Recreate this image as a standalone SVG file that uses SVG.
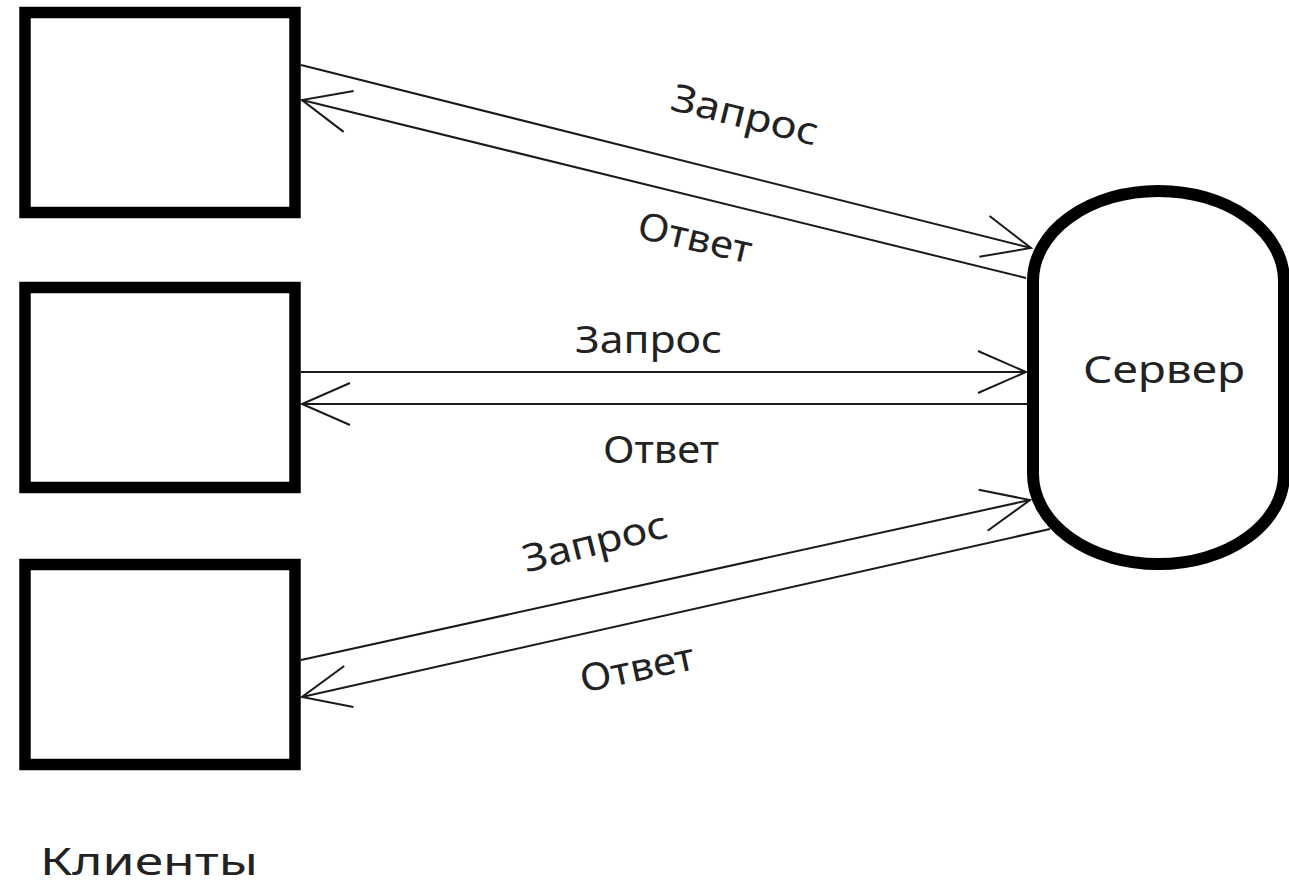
<svg xmlns="http://www.w3.org/2000/svg" width="1289" height="887" viewBox="0 0 1289 887">
<style>
.box{fill:#fff;stroke:#000;stroke-width:11.5}
.srv{fill:#fff;stroke:#000;stroke-width:12}
.conn{fill:none;stroke:#1a1a1a;stroke-width:2;marker-end:url(#arr)}
.lbl{font-family:"Noto Sans","Open Sans","DejaVu Sans",sans-serif;fill:#222;font-size:38px}
</style>
<defs>
<marker id="arr" markerUnits="userSpaceOnUse" viewBox="-55 -25 60 50" refX="0" refY="0" markerWidth="60" markerHeight="50" orient="auto" overflow="visible">
<path d="M-48,-21 L0,0 L-48,21" fill="none" stroke="#1a1a1a" stroke-width="2"/>
</marker>
</defs>
<rect width="1289" height="887" fill="#fff"/>
<g id="client1"><rect class="box" x="25" y="12.5" width="270" height="200"/></g>
<g id="client2"><rect class="box" x="25" y="287.5" width="270" height="200"/></g>
<g id="client3"><rect class="box" x="25" y="564.5" width="270" height="200"/></g>
<g id="server">
<rect class="srv" x="1033" y="191" width="251" height="373" rx="125" ry="90"/>
<text class="lbl" x="1083" y="383" font-size="36" textLength="162" lengthAdjust="spacingAndGlyphs">Сервер</text>
</g>
<g id="clients-label"><text class="lbl" x="40" y="875" font-size="44" textLength="218" lengthAdjust="spacingAndGlyphs">Клиенты</text></g>
<g id="connectors">
<line class="conn" x1="301" y1="65" x2="1031" y2="248"/>
<line class="conn" x1="1026" y1="278" x2="302" y2="100"/>
<line class="conn" x1="301" y1="372" x2="1026" y2="372"/>
<line class="conn" x1="1027" y1="404" x2="302" y2="404"/>
<line class="conn" x1="301" y1="660" x2="1030" y2="500"/>
<line class="conn" x1="1050" y1="529" x2="302" y2="697"/>
</g>
<g id="labels">
<text class="lbl" transform="translate(745,115) rotate(14)" x="-75" y="13" textLength="150" lengthAdjust="spacingAndGlyphs">Запрос</text>
<text class="lbl" transform="translate(695,238) rotate(13)" x="-58" y="13" textLength="116" lengthAdjust="spacingAndGlyphs">Ответ</text>
<text class="lbl" x="575" y="353" textLength="147" lengthAdjust="spacingAndGlyphs">Запрос</text>
<text class="lbl" x="603" y="463" textLength="116" lengthAdjust="spacingAndGlyphs">Ответ</text>
<text class="lbl" transform="translate(595,542) rotate(-14)" x="-74" y="13" textLength="148" lengthAdjust="spacingAndGlyphs">Запрос</text>
<text class="lbl" transform="translate(637,668) rotate(-12)" x="-58" y="13" textLength="116" lengthAdjust="spacingAndGlyphs">Ответ</text>
</g>
</svg>
